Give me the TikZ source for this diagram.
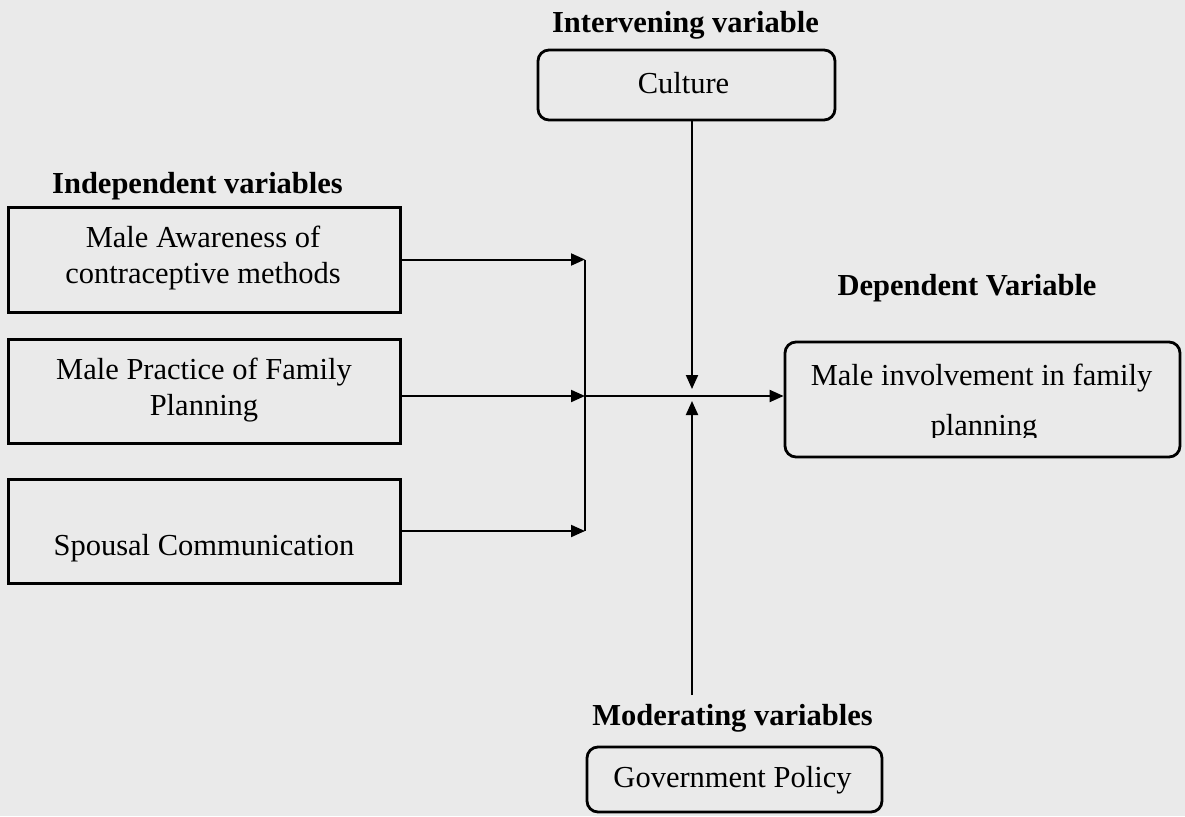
\documentclass[tikz,border=0pt]{standalone}
\usepackage{fontspec}
\setmainfont{Liberation Serif}
\usetikzlibrary{arrows.meta}
\definecolor{bg}{RGB}{234,234,234}
\begin{document}
\begin{tikzpicture}[x=1pt,y=-1pt,
  every node/.style={font=\fontsize{30.5}{36}\selectfont, inner sep=0pt},
  txt/.style={anchor=base},
  head/.style={anchor=base, font=\fontsize{30.5}{36}\selectfont\bfseries},
  sqbox/.style={draw, line width=3pt},
  rbox/.style={draw, line width=2.8pt, rounded corners=11pt},
  conn/.style={line width=2pt},
  arr/.style={conn, -{Triangle[length=14pt,width=12pt]}},
]
\fill[bg] (0,0) rectangle (1185,816);
\useasboundingbox (0,0) rectangle (1185,816);

% headings
\node[head] (hint) at (685.5,33) {Intervening variable};
\node[head, anchor=base west] (hind) at (52,193) {Independent variables};
\node[head] (hdep) at (967,295) {Dependent Variable};
\node[head] (hmod) at (732.5,725) {Moderating variables};

% independent boxes
\node[sqbox, minimum width=392pt, minimum height=105pt] (b1) at (204,259.5) {};
\node[txt] (b1a) at (203,247) {Male Awareness of};
\node[txt] (b1b) at (203,283) {contraceptive methods};
\node[sqbox, minimum width=392pt, minimum height=104pt] (b2) at (204,391) {};
\node[txt] (b2a) at (204,379) {Male Practice of Family};
\node[txt] (b2b) at (204,415) {Planning};
\node[sqbox, minimum width=392pt, minimum height=104pt] (b3) at (204,531) {};
\node[txt] (b3a) at (204,555) {Spousal Communication};

% intervening
\node[rbox, minimum width=297pt, minimum height=70pt] (cult) at (686.5,85) {};
\node[txt] (culta) at (683.5,93) {Culture};

% dependent
\node[rbox, minimum width=395pt, minimum height=115pt] (dep) at (982.5,399.5) {};
\node[txt] (dep1) at (981.5,385) {Male involvement in family};
\begin{scope}
  \clip (785,342) rectangle (1180,437.5);
  \node[txt] (dep2) at (984,435) {planning};
\end{scope}

% moderating
\node[rbox, minimum width=295pt, minimum height=65pt] (gov) at (734.5,779.5) {};
\node[txt] (gova) at (732.5,787) {Government Policy};

% connectors
\coordinate (colx) at (585,0);
\coordinate (m) at (585,396);
\coordinate (cx) at (692,396);
\coordinate (mtop) at (692,695);

\draw[conn] (b1.east -| colx) -- (b3.east -| colx);
\draw[arr] (b1.east) -- (b1.east -| colx);
\draw[arr] (b2.east |- m) -- (m);
\draw[arr] (b3.east) -- (b3.east -| colx);
\draw[arr] (m) -- (m -| dep.west);
\draw[arr] (cult.south -| cx) -- ([yshift=7pt]cx);
\draw[arr] (mtop) -- ([yshift=-5pt]cx);
\end{tikzpicture}
\end{document}
